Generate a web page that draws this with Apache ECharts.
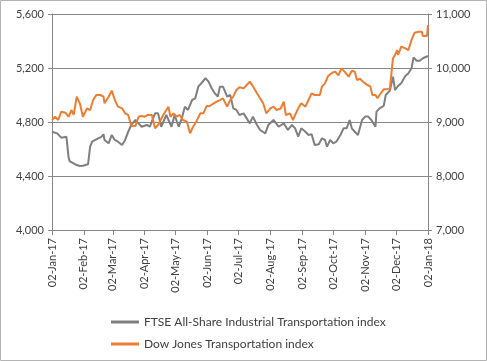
<!DOCTYPE html>
<html>
<head>
<meta charset="utf-8">
<script src="https://cdn.jsdelivr.net/npm/echarts@6/dist/echarts.min.js"></script>
<style>
html,body{margin:0;padding:0;background:#fff;}
#chart{width:487px;height:361px;}
</style>
</head>
<body>
<div id="chart"></div>
<script>
// ---- data ----
const ftseDates = ['2017-01-02','2017-01-07','2017-01-11','2017-01-16','2017-01-18','2017-01-19','2017-01-23','2017-01-26','2017-01-29','2017-02-01','2017-02-06','2017-02-08','2017-02-10','2017-02-13','2017-02-16','2017-02-19','2017-02-21','2017-02-22','2017-02-26','2017-03-01','2017-03-04','2017-03-07','2017-03-11','2017-03-14','2017-03-17','2017-03-20','2017-03-24','2017-03-27','2017-03-30','2017-04-04','2017-04-07','2017-04-12','2017-04-15','2017-04-18','2017-04-23','2017-04-28','2017-05-01','2017-05-05','2017-05-08','2017-05-11','2017-05-14','2017-05-18','2017-05-21','2017-05-24','2017-05-27','2017-05-31','2017-06-03','2017-06-06','2017-06-09','2017-06-12','2017-06-14','2017-06-17','2017-06-21','2017-06-24','2017-06-27','2017-06-30','2017-07-03','2017-07-07','2017-07-10','2017-07-13','2017-07-16','2017-07-20','2017-07-23','2017-07-28','2017-07-31','2017-08-05','2017-08-10','2017-08-15','2017-08-19','2017-08-23','2017-08-26','2017-08-29','2017-09-01','2017-09-05','2017-09-08','2017-09-11','2017-09-14','2017-09-18','2017-09-21','2017-09-24','2017-09-26','2017-09-29','2017-10-02','2017-10-05','2017-10-09','2017-10-12','2017-10-15','2017-10-18','2017-10-20','2017-10-23','2017-10-26','2017-10-30','2017-11-02','2017-11-05','2017-11-08','2017-11-12','2017-11-13','2017-11-16','2017-11-20','2017-11-22','2017-11-26','2017-11-29','2017-12-01','2017-12-04','2017-12-07','2017-12-11','2017-12-14','2017-12-17','2017-12-19','2017-12-22','2017-12-25','2017-12-28','2018-01-02'];
const ftseValues = [4728,4716,4684,4690,4543,4511,4494,4481,4474,4476,4487,4617,4654,4667,4679,4690,4709,4667,4642,4704,4667,4654,4630,4667,4728,4778,4815,4790,4765,4778,4765,4864,4864,4765,4852,4765,4852,4765,4827,4913,4889,4963,4975,5062,5087,5124,5099,5050,5013,4988,5062,5062,4988,5000,4901,4889,4852,4864,4827,4790,4840,4778,4741,4716,4778,4815,4765,4790,4741,4778,4753,4691,4753,4728,4704,4710,4630,4635,4679,4667,4617,4667,4642,4654,4704,4753,4753,4815,4753,4728,4704,4815,4840,4840,4815,4765,4877,4901,4919,5000,5032,5136,5037,5067,5087,5141,5161,5198,5279,5254,5254,5272,5289];

const djDates = ['2017-01-02','2017-01-05','2017-01-08','2017-01-11','2017-01-15','2017-01-18','2017-01-21','2017-01-23','2017-01-26','2017-01-29','2017-02-01','2017-02-05','2017-02-08','2017-02-11','2017-02-14','2017-02-18','2017-02-21','2017-02-22','2017-02-26','2017-03-01','2017-03-04','2017-03-07','2017-03-11','2017-03-14','2017-03-17','2017-03-20','2017-03-24','2017-03-27','2017-03-30','2017-04-02','2017-04-05','2017-04-09','2017-04-12','2017-04-15','2017-04-20','2017-04-25','2017-04-27','2017-04-30','2017-05-03','2017-05-06','2017-05-09','2017-05-13','2017-05-16','2017-05-19','2017-05-22','2017-05-26','2017-05-29','2017-06-01','2017-06-04','2017-06-08','2017-06-11','2017-06-14','2017-06-17','2017-06-21','2017-06-24','2017-06-27','2017-06-30','2017-07-03','2017-07-07','2017-07-10','2017-07-13','2017-07-16','2017-07-20','2017-07-23','2017-07-26','2017-07-29','2017-08-02','2017-08-05','2017-08-08','2017-08-12','2017-08-15','2017-08-17','2017-08-21','2017-08-24','2017-08-26','2017-08-29','2017-09-01','2017-09-05','2017-09-08','2017-09-11','2017-09-14','2017-09-19','2017-09-21','2017-09-24','2017-09-27','2017-10-01','2017-10-04','2017-10-07','2017-10-10','2017-10-13','2017-10-17','2017-10-20','2017-10-23','2017-10-25','2017-10-28','2017-10-31','2017-11-04','2017-11-07','2017-11-09','2017-11-12','2017-11-14','2017-11-16','2017-11-20','2017-11-23','2017-11-26','2017-11-29','2017-12-01','2017-12-03','2017-12-04','2017-12-07','2017-12-11','2017-12-14','2017-12-17','2017-12-20','2017-12-24','2017-12-27','2017-12-28','2018-01-01','2018-01-02'];
const djValues = [9037,9098,9037,9191,9173,9098,9222,9130,9469,9346,9098,9253,9222,9407,9500,9500,9469,9346,9469,9580,9407,9284,9253,9161,9130,8926,8926,9098,9110,9098,9130,9130,8883,8944,9130,9284,9098,9161,9098,9130,9037,9006,8790,8913,9006,9161,9161,9296,9296,9346,9377,9407,9438,9284,9407,9469,9593,9642,9623,9685,9747,9661,9531,9438,9346,9161,9253,9284,9222,9250,9377,9130,9161,9037,9130,9253,9346,9284,9407,9531,9500,9500,9654,9716,9852,9913,9932,9864,9994,9932,9839,9950,9932,9778,9800,9747,9685,9660,9500,9500,9438,9500,9605,9605,9623,10179,10241,10333,10241,10395,10364,10333,10519,10654,10673,10673,10593,10593,10796];

const tickDates = ['2017-01-02','2017-02-02','2017-03-02','2017-04-02','2017-05-02','2017-06-02','2017-07-02','2017-08-02','2017-09-02','2017-10-02','2017-11-02','2017-12-02','2018-01-02'];
const seriesNames = ['FTSE All-Share Industrial Transportation index','Dow Jones Transportation index'];
const leftTicks = [4000, 5600, 400];
const rightTicks = [7000, 11000, 1000];

// ---- chart ----
const months = ['Jan','Feb','Mar','Apr','May','Jun','Jul','Aug','Sep','Oct','Nov','Dec'];
function ts(s){ const p = s.split('-'); return Date.UTC(+p[0], +p[1]-1, +p[2]); }
function fmtDate(v){ const d = new Date(v); return String(d.getUTCDate()).padStart(2,'0') + '-' + months[d.getUTCMonth()] + '-' + String(d.getUTCFullYear()).slice(2); }
function fmtNum(v){ return v.toLocaleString('en-US'); }

const FONT = 'Lato';
const TXT = '#404040';
const AX = '#868686';
const tickTs = tickDates.map(ts);

const chart = echarts.init(document.getElementById('chart'), null, {renderer:'canvas'});
chart.setOption({
  animation: false,
  textStyle: {fontFamily: FONT},
  graphic: [{type:'rect', shape:{x:0.5, y:0.5, width:486, height:360}, style:{fill:'none', stroke:'#b4b4b4', lineWidth:1}, silent:true}],
  grid: {left:52, right:59, top:14, bottom:131, containLabel:false},
  legend: {
    orient:'vertical', left:106, top:311, itemGap:10, itemWidth:28, itemHeight:3,
    icon:'rect',
    textStyle:{fontFamily:FONT, fontSize:12, color:TXT},
    data: seriesNames
  },
  xAxis: {
    type:'value', min:tickTs[0], max:tickTs[tickTs.length-1],
    axisLine:{show:true, lineStyle:{color:AX, width:1}},
    axisTick:{show:true, length:5, lineStyle:{color:AX}, customValues: tickTs},
    axisLabel:{rotate:90, fontFamily:FONT, fontSize:11, color:TXT, margin:8, customValues: tickTs, formatter: v => fmtDate(v)},
    splitLine:{show:false}
  },
  yAxis: [{
    type:'value', min:leftTicks[0], max:leftTicks[1], interval:leftTicks[2], position:'left',
    axisLine:{show:true, lineStyle:{color:AX}},
    axisTick:{show:true, length:4, lineStyle:{color:AX}},
    axisLabel:{fontFamily:FONT, fontSize:11, color:TXT, margin:8, formatter: v => fmtNum(v)},
    splitLine:{show:true, lineStyle:{color:AX, width:1}}
  },{
    type:'value', min:rightTicks[0], max:rightTicks[1], interval:rightTicks[2], position:'right',
    axisLine:{show:true, lineStyle:{color:AX}},
    axisTick:{show:true, length:4, lineStyle:{color:AX}},
    axisLabel:{fontFamily:FONT, fontSize:11, color:TXT, margin:8, formatter: v => fmtNum(v)},
    splitLine:{show:false}
  }],
  series: [{
    name: seriesNames[0], type:'line', yAxisIndex:0, showSymbol:false, symbol:'none',
    lineStyle:{color:'#7f7f7f', width:2}, itemStyle:{color:'#7f7f7f'},
    data: ftseDates.map((d,i)=>[ts(d), ftseValues[i]])
  },{
    name: seriesNames[1], type:'line', yAxisIndex:1, showSymbol:false, symbol:'none',
    lineStyle:{color:'#ed7d31', width:2}, itemStyle:{color:'#ed7d31'},
    data: djDates.map((d,i)=>[ts(d), djValues[i]])
  }]
});
</script>
</body>
</html>
